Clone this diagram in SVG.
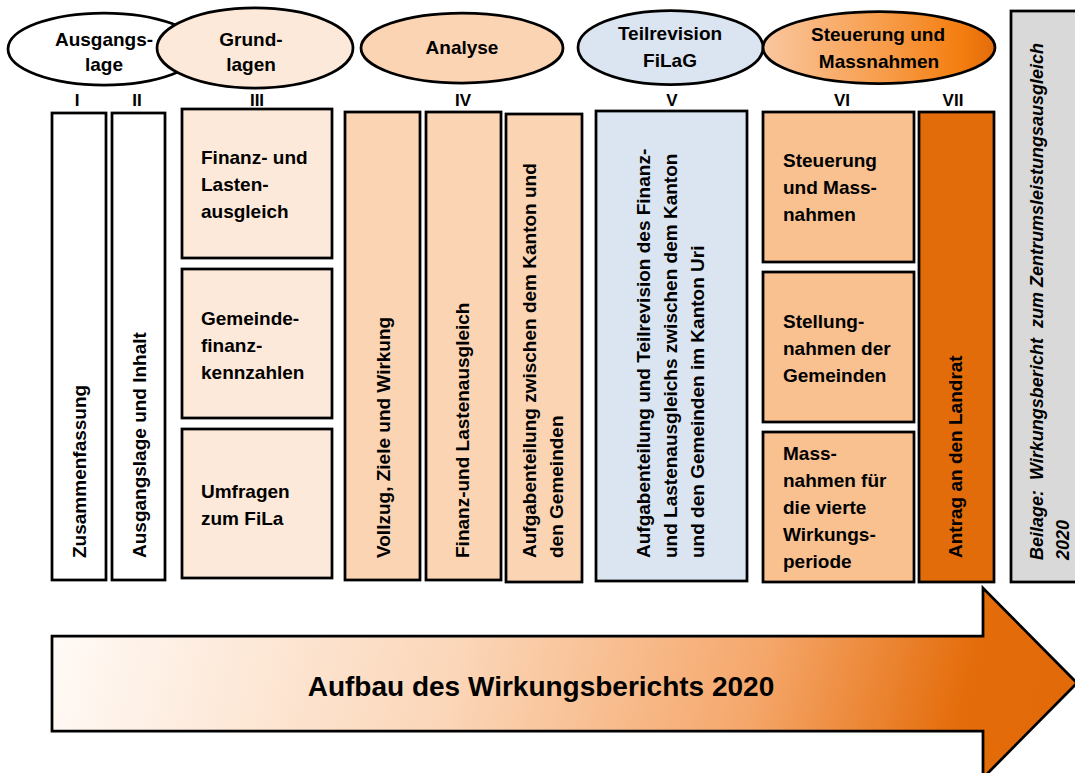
<svg xmlns="http://www.w3.org/2000/svg" width="1075" height="773" viewBox="0 0 1075 773">
<defs>
<linearGradient id="gSteu" x1="0" y1="0" x2="1" y2="0">
<stop offset="0" stop-color="#fac7a0"/>
<stop offset="0.55" stop-color="#f79a45"/>
<stop offset="0.85" stop-color="#f47e10"/>
<stop offset="1" stop-color="#e36c0a"/>
</linearGradient>
<linearGradient id="gArrow" gradientUnits="userSpaceOnUse" x1="60" y1="560" x2="1010" y2="800">
<stop offset="0" stop-color="#fffbf8"/>
<stop offset="0.42" stop-color="#fbd6b8"/>
<stop offset="0.72" stop-color="#f5a76b"/>
<stop offset="0.93" stop-color="#e46c0a"/>
<stop offset="1" stop-color="#e36a08"/>
</linearGradient>
</defs>
<style>
.s{stroke:#000;stroke-width:2.75}
.t{font-family:"Liberation Sans",Arial,sans-serif;font-weight:bold;font-size:19px;fill:#000}
.c{text-anchor:middle}
.it{font-style:italic;font-size:18px}
.big{font-size:28px}
.lb{font-family:"Liberation Sans",Arial,sans-serif;font-weight:bold;font-size:17px;fill:#000;text-anchor:middle}
.w{fill:#fff}
.p1{fill:#fde9d9}
.p2{fill:#fbd4b4}
.bl{fill:#dbe5f1}
.p3{fill:#f9c090}
.or{fill:#e36c0a}
.gr{fill:#d9d9d9}
</style>
<rect width="1075" height="773" fill="#fff"/>

<g id="phase-ausgangslage">
<ellipse class="s w" cx="104" cy="49" rx="96" ry="36"/>
<text class="t c" x="104" y="46">Ausgangs-</text>
<text class="t c" x="104" y="71">lage</text>
</g>
<g id="phase-grundlagen">
<ellipse class="s p1" cx="255" cy="48" rx="98" ry="40"/>
<text class="t c" x="251" y="46">Grund-</text>
<text class="t c" x="251" y="71">lagen</text>
</g>
<g id="phase-analyse">
<ellipse class="s p2" cx="462" cy="48" rx="101" ry="35"/>
<text class="t c" x="462" y="54">Analyse</text>
</g>
<g id="phase-teilrevision">
<ellipse class="s bl" cx="670.5" cy="47.5" rx="92.5" ry="37"/>
<text class="t c" x="670" y="40">Teilrevision</text>
<text class="t c" x="670" y="67">FiLaG</text>
</g>
<g id="phase-steuerung">
<ellipse class="s" fill="url(#gSteu)" cx="879" cy="47.5" rx="116" ry="36"/>
<text class="t c" x="878" y="41">Steuerung und</text>
<text class="t c" x="879" y="68">Massnahmen</text>
</g>

<g id="labels">
<text class="lb" x="77" y="106">I</text>
<text class="lb" x="137" y="106">II</text>
<text class="lb" x="257" y="106">III</text>
<text class="lb" x="463" y="106">IV</text>
<text class="lb" x="672" y="106">V</text>
<text class="lb" x="842" y="106">VI</text>
<text class="lb" x="953" y="106">VII</text>
</g>

<g id="ch1-zusammenfassung">
<rect class="s w" x="52" y="113" width="54" height="467"/>
<text class="t" transform="translate(86,558) rotate(-90)">Zusammenfassung</text>
</g>
<g id="ch2-ausgangslage">
<rect class="s w" x="112" y="113" width="53" height="467"/>
<text class="t" transform="translate(146,558) rotate(-90)">Ausgangslage und Inhalt</text>
</g>

<g id="ch3-finanz">
<rect class="s p1" x="182" y="109" width="150" height="149"/>
<text class="t" x="201" y="164">Finanz- und</text>
<text class="t" x="201" y="191">Lasten-</text>
<text class="t" x="201" y="218">ausgleich</text>
</g>
<g id="ch3-gemeinde">
<rect class="s p1" x="182" y="269" width="150" height="149"/>
<text class="t" x="201" y="325">Gemeinde-</text>
<text class="t" x="201" y="352">finanz-</text>
<text class="t" x="201" y="379">kennzahlen</text>
</g>
<g id="ch3-umfragen">
<rect class="s p1" x="182" y="429" width="150" height="149"/>
<text class="t" x="201" y="498">Umfragen</text>
<text class="t" x="201" y="525">zum FiLa</text>
</g>

<g id="ch4-vollzug">
<rect class="s p2" x="345" y="112" width="75" height="468"/>
<text class="t" transform="translate(390,558) rotate(-90)">Vollzug, Ziele und Wirkung</text>
</g>
<g id="ch4-finanz">
<rect class="s p2" x="426" y="112" width="75" height="468"/>
<text class="t" transform="translate(469,558) rotate(-90)">Finanz-und Lastenausgleich</text>
</g>
<g id="ch4-aufgaben">
<rect class="s p2" x="506" y="114" width="76" height="468"/>
<text class="t" transform="translate(536,558) rotate(-90)">Aufgabenteilung zwischen dem Kanton und</text>
<text class="t" transform="translate(563,558) rotate(-90)">den Gemeinden</text>
</g>

<g id="ch5-teilrevision">
<rect class="s bl" x="596" y="111" width="151" height="470"/>
<text class="t" transform="translate(650,558) rotate(-90)">Aufgabenteilung und Teilrevision des Finanz-</text>
<text class="t" transform="translate(677,558) rotate(-90)">und Lastenausgleichs zwischen dem Kanton</text>
<text class="t" transform="translate(704,558) rotate(-90)">und den Gemeinden im Kanton Uri</text>
</g>

<g id="ch6-steuerung">
<rect class="s p3" x="763" y="112" width="151" height="150"/>
<text class="t" x="783" y="167">Steuerung</text>
<text class="t" x="783" y="194">und Mass-</text>
<text class="t" x="783" y="221">nahmen</text>
</g>
<g id="ch6-stellungnahmen">
<rect class="s p3" x="763" y="272" width="151" height="150"/>
<text class="t" x="783" y="328">Stellung-</text>
<text class="t" x="783" y="355">nahmen der</text>
<text class="t" x="783" y="382">Gemeinden</text>
</g>
<g id="ch6-massnahmen">
<rect class="s p3" x="763" y="432" width="151" height="150"/>
<text class="t" x="783" y="460">Mass-</text>
<text class="t" x="783" y="487">nahmen für</text>
<text class="t" x="783" y="514">die vierte</text>
<text class="t" x="783" y="541">Wirkungs-</text>
<text class="t" x="783" y="568">periode</text>
</g>

<g id="ch7-antrag">
<rect class="s or" x="919" y="112" width="75" height="470"/>
<text class="t" transform="translate(962,558) rotate(-90)">Antrag an den Landrat</text>
</g>

<g id="beilage">
<rect class="s gr" x="1011" y="11" width="80" height="571"/>
<text class="t it" xml:space="preserve" transform="translate(1043,560) rotate(-90)">Beilage:  Wirkungsbericht  zum Zentrumsleistungsausgleich</text>
<text class="t it" transform="translate(1069,560) rotate(-90)">2020</text>
</g>

<g id="arrow">
<polygon class="s" fill="url(#gArrow)" points="52,636 983,636 983,588 1077,683 983,778 983,731 52,731"/>
<text class="t c big" x="541" y="696">Aufbau des Wirkungsberichts 2020</text>
</g>

<g id="connectors"></g>
</svg>
